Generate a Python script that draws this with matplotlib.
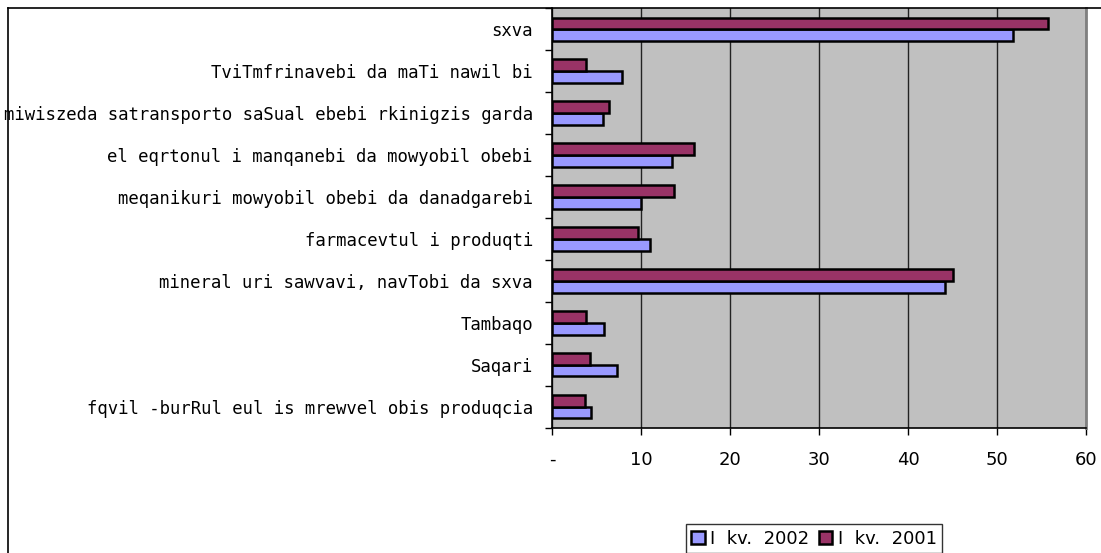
import matplotlib
matplotlib.use("Agg")
import matplotlib.pyplot as plt
import numpy as np
from matplotlib.lines import Line2D

# categories, bottom to top
categories = [
    "fqvil -burRul eul is mrewvel obis produqcia",
    "Saqari",
    "Tambaqo",
    "mineral uri sawvavi, navTobi da sxva",
    "farmacevtul i produqti",
    "meqanikuri mowyobil obebi da danadgarebi",
    "el eqrtonul i manqanebi da mowyobil obebi",
    "miwiszeda satransporto saSual ebebi rkinigzis garda",
    "TviTmfrinavebi da maTi nawil bi",
    "sxva",
]
kv2002 = [4.4, 7.3, 5.8, 44.1, 11.0, 10.0, 13.5, 5.7, 7.8, 51.8]
kv2001 = [3.7, 4.2, 3.8, 45.1, 9.6, 13.7, 15.9, 6.4, 3.8, 55.7]
xticks = [0, 10, 20, 30, 40, 50, 60]
xlabels = ["-", "10", "20", "30", "40", "50", "60"]

fig = plt.figure(figsize=(11.01, 5.53), dpi=100)
ax = fig.add_axes([552.3/1101, 1-427.6/553, (1086-552.3)/1101, (427.6-8.3)/553])
ax.set_facecolor("#C0C0C0")

y = np.arange(len(categories))
h = 0.28
b2 = ax.barh(y - h/2, kv2002, height=h, color="#9999FF", edgecolor="black", linewidth=1.8, label="I kv. 2002", zorder=3)
b1 = ax.barh(y + h/2, kv2001, height=h, color="#993366", edgecolor="black", linewidth=1.8, label="I kv. 2001", zorder=3)

ax.set_xlim(0, 60)
ax.set_ylim(-0.5, len(categories) - 0.5)
ax.set_xticks(xticks)
ax.set_xticklabels(xlabels, fontsize=13, family="DejaVu Sans")
ax.xaxis.grid(True, color="#222222", linewidth=1.0, zorder=1)
ax.set_axisbelow(True)

ax.set_yticks(y)
ax.set_yticklabels(categories, family="DejaVu Sans Mono", fontsize=12.4)
ax.set_yticks(np.arange(-0.5, len(categories), 1), minor=True)
ax.tick_params(axis="y", which="major", length=0, pad=14)
ax.tick_params(axis="y", which="minor", length=5, width=1, direction="out")
ax.tick_params(axis="x", which="major", length=5, width=1, direction="out", pad=12)

ax.spines["top"].set_visible(False)
ax.spines["right"].set_color("#808080")
ax.spines["right"].set_linewidth(2)
ax.spines["left"].set_linewidth(1.2)
ax.spines["bottom"].set_linewidth(1.2)

leg = fig.legend(handles=[b2, b1], labels=["I  kv.  2002", "I  kv.  2001"], loc="center",
                 bbox_to_anchor=(814/1101, 1-538.5/553),
                 ncol=2, fontsize=13, frameon=True, fancybox=False, edgecolor="black",
                 handlelength=0.75, handleheight=0.75, handletextpad=0.3, columnspacing=0.5,
                 borderpad=0.3, borderaxespad=0)
leg.get_frame().set_linewidth(1.0)

# outer chart frame (top and left edges visible)
fig.add_artist(Line2D([7.5/1101, 1], [1-7.5/553, 1-7.5/553], transform=fig.transFigure, color="black", linewidth=1.2))
fig.add_artist(Line2D([7.5/1101, 7.5/1101], [0, 1-7.5/553], transform=fig.transFigure, color="black", linewidth=1.2))

fig.savefig("out.png", dpi=100)
